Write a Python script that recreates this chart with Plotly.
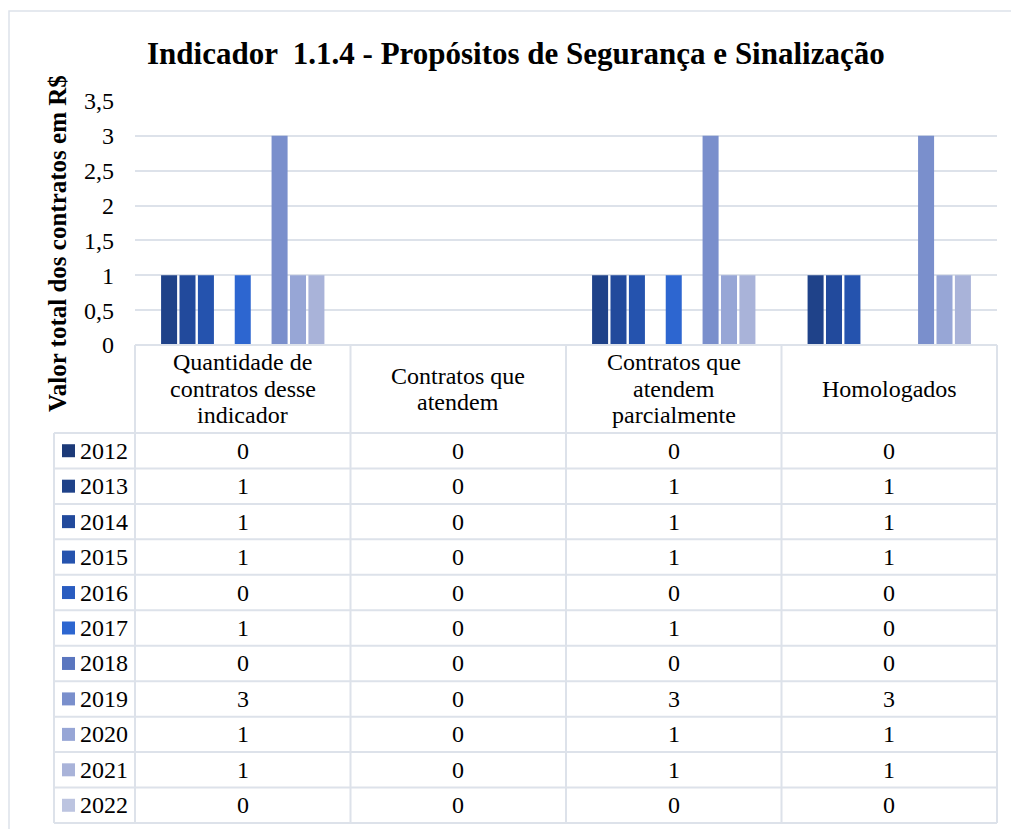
import plotly.graph_objects as go

categories = ["Quantidade de contratos desse indicador", "Contratos que atendem",
              "Contratos que atendem parcialmente", "Homologados"]
category_lines = [["Quantidade de", "contratos desse", "indicador"],
                  ["Contratos que", "atendem"],
                  ["Contratos que", "atendem", "parcialmente"],
                  ["Homologados"]]
years = ["2012", "2013", "2014", "2015", "2016", "2017", "2018", "2019", "2020", "2021", "2022"]
values = {
    "2012": [0, 0, 0, 0],
    "2013": [1, 0, 1, 1],
    "2014": [1, 0, 1, 1],
    "2015": [1, 0, 1, 1],
    "2016": [0, 0, 0, 0],
    "2017": [1, 0, 1, 0],
    "2018": [0, 0, 0, 0],
    "2019": [3, 0, 3, 3],
    "2020": [1, 0, 1, 1],
    "2021": [1, 0, 1, 1],
    "2022": [0, 0, 0, 0],
}
colors = ["#1c3a78", "#1f4289", "#224a9c", "#2553ae", "#295cc0", "#2d66d0",
          "#5a76bf", "#7a8fcc", "#97a6d6", "#a9b3d9", "#bcc4e0"]
y_ticks = [0, 0.5, 1, 1.5, 2, 2.5, 3, 3.5]

W, H = 1011, 829
FONT = "Liberation Serif"
LINE = "#dde2ea"
FS = 24

def px(x):
    return x / W

def py(y):
    return 1 - y / H

x_left, x_right = 135, 997
y_top, y_bot = 101, 345

fig = go.Figure()
for i, yr in enumerate(years):
    fig.add_trace(go.Bar(x=list(range(len(categories))), y=values[yr], name=yr,
                         marker=dict(color=colors[i], line=dict(width=0)),
                         hovertext=categories, showlegend=False))

fig.update_layout(
    width=W, height=H,
    margin=dict(l=0, r=0, t=0, b=0),
    paper_bgcolor="white", plot_bgcolor="white",
    barmode="group", bargap=0.06, bargroupgap=0.13,
    separators=",.",
    font=dict(family=FONT, size=FS, color="black"),
    xaxis=dict(domain=[px(x_left), px(x_right)], range=[-0.5, 3.5],
               showticklabels=False, showgrid=False, zeroline=False,
               showline=False, automargin=False),
    yaxis=dict(domain=[py(y_bot), py(y_top)], range=[0, 3.5],
               tickvals=y_ticks, ticks="", showline=False, zeroline=False,
               gridcolor=LINE, gridwidth=1.5, ticklabelstandoff=20,
               tickfont=dict(family=FONT, size=FS, color="black"),
               automargin=False),
)

shapes = []
anns = []
# outer chart border
shapes.append(dict(type="rect", xref="paper", yref="paper",
                   x0=px(9), x1=px(1012), y0=py(832), y1=py(11),
                   line=dict(color=LINE, width=1.5)))

# data table
col_edges = [x_left + (x_right - x_left) * k / 4 for k in range(5)]
leg_left = 54
head_bot = 433
row_h = (823 - head_bot) / len(years)
table_bot = head_bot + row_h * len(years)
lc = dict(color=LINE, width=2)
for xe in col_edges:
    shapes.append(dict(type="line", xref="paper", yref="paper",
                       x0=px(xe), x1=px(xe), y0=py(y_bot), y1=py(table_bot), line=lc))
shapes.append(dict(type="line", xref="paper", yref="paper",
                   x0=px(leg_left), x1=px(leg_left), y0=py(head_bot), y1=py(table_bot), line=lc))
shapes.append(dict(type="line", xref="paper", yref="paper",
                   x0=px(x_left), x1=px(x_right), y0=py(y_bot), y1=py(y_bot), line=lc))
for r in range(len(years) + 1):
    yy = head_bot + r * row_h
    shapes.append(dict(type="line", xref="paper", yref="paper",
                       x0=px(leg_left), x1=px(x_right), y0=py(yy), y1=py(yy), line=lc))

# header texts (one annotation per line for tight line spacing)
LS = 26.5
for k, lines in enumerate(category_lines):
    cx = (col_edges[k] + col_edges[k + 1]) / 2
    mid = (y_bot + head_bot) / 2
    n = len(lines)
    for j, ln in enumerate(lines):
        cy = mid + (j - (n - 1) / 2) * LS
        anns.append(dict(xref="paper", yref="paper", x=px(cx), y=py(cy),
                         text=ln, showarrow=False, xanchor="center", yanchor="middle",
                         font=dict(family=FONT, size=FS, color="black")))

# rows
for r, yr in enumerate(years):
    cy = head_bot + (r + 0.5) * row_h
    shapes.append(dict(type="rect", xref="paper", yref="paper",
                       x0=px(62), x1=px(75), y0=py(cy + 6.5), y1=py(cy - 6.5),
                       fillcolor=colors[r], line=dict(width=0)))
    anns.append(dict(xref="paper", yref="paper", x=px(78), y=py(cy), text=yr,
                     showarrow=False, xanchor="left", yanchor="middle",
                     font=dict(family=FONT, size=FS, color="black")))
    for k in range(len(categories)):
        cx = (col_edges[k] + col_edges[k + 1]) / 2
        anns.append(dict(xref="paper", yref="paper", x=px(cx), y=py(cy),
                         text=str(values[yr][k]), showarrow=False,
                         xanchor="center", yanchor="middle",
                         font=dict(family=FONT, size=FS, color="black")))

# title
anns.append(dict(xref="paper", yref="paper", x=px(516), y=py(53),
                 text="<b>Indicador  1.1.4 - Propósitos de Segurança e Sinalização</b>",
                 showarrow=False, xanchor="center", yanchor="middle",
                 font=dict(family=FONT, size=31, color="black")))
# y axis title
anns.append(dict(xref="paper", yref="paper", x=px(57), y=py(244),
                 text="<b>Valor total dos contratos em R$</b>", textangle=-90,
                 showarrow=False, xanchor="center", yanchor="middle",
                 font=dict(family=FONT, size=25, color="black")))

fig.update_layout(shapes=shapes, annotations=anns)
fig.write_html("out.html", config={"displayModeBar": False},
               post_script="document.body.style.margin='0';document.body.style.overflow='hidden';")
